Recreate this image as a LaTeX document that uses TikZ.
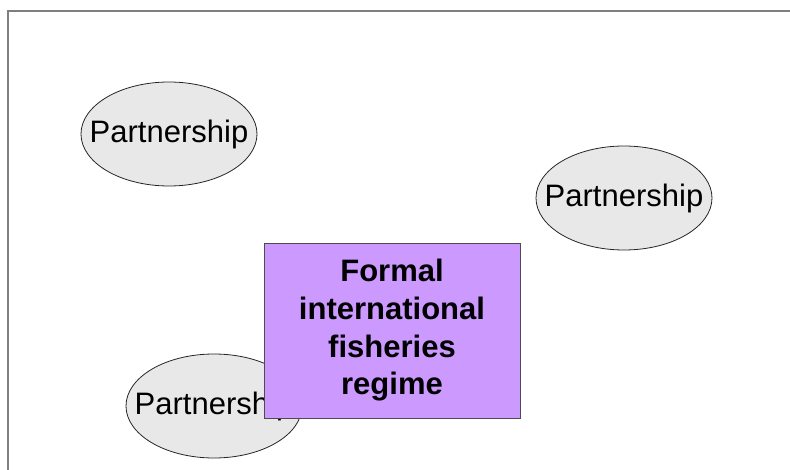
\documentclass[tikz,border=0pt]{standalone}
\usepackage{fontspec}
\setmainfont{Liberation Sans}
\definecolor{ellfill}{HTML}{E8E8E8}
\definecolor{regfill}{HTML}{CC99FF}
\definecolor{framegray}{HTML}{7F7F7F}
\tikzset{
  partnerbg/.style={draw=black!85, line width=0.8pt, fill=ellfill},
  partner/.style={inner sep=0pt, font=\fontsize{31}{37}\selectfont},
  regime/.style={rectangle, draw=black!70, line width=0.8pt, fill=regfill,
    minimum width=256pt, minimum height=175pt, inner sep=0pt, align=center,
    font=\fontsize{31}{37.7}\selectfont\bfseries},
}
\begin{document}
\begin{tikzpicture}[x=1pt,y=-1pt]
\useasboundingbox (0,0) rectangle (790,470);
\coordinate (tr) at (790,11);
\coordinate (tl) at (8,11);
\coordinate (bl) at (8,470);
\draw[framegray, line width=2pt] (tr) -- (tl) -- (bl);
\coordinate (c1) at (169,134);
\coordinate (c2) at (624,198);
\coordinate (c3) at (214,406);
\draw[partnerbg] (c1) ellipse [x radius=88, y radius=52];
\draw[partnerbg] (c2) ellipse [x radius=88, y radius=52];
\draw[partnerbg] (c3) ellipse [x radius=88, y radius=52];
\node[partner] (p1) at (c1) {Partnership};
\node[partner] (p2) at (c2) {Partnership};
\node[partner] (p3) at (c3) {Partnership};
\node[regime] (reg) at (392,330.5) {Formal\\international\\fisheries\\regime};
\end{tikzpicture}
\end{document}
